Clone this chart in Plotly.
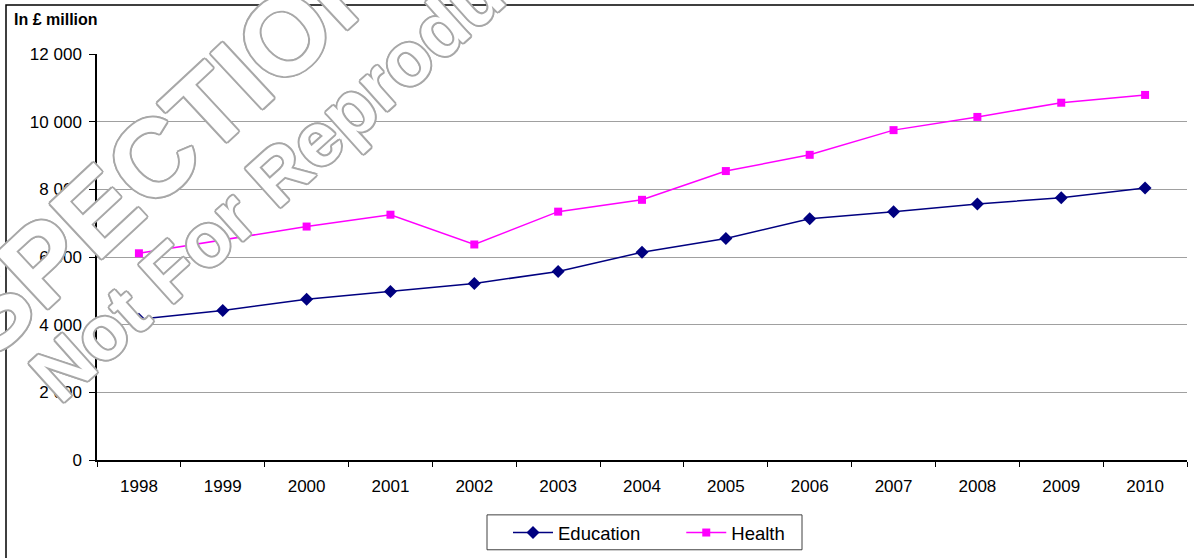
import plotly.graph_objects as go

# Public spending, in £ million
years = ["1998", "1999", "2000", "2001", "2002", "2003", "2004",
         "2005", "2006", "2007", "2008", "2009", "2010"]
education = [4160, 4420, 4750, 4980, 5220, 5570, 6140, 6550, 7130, 7340, 7570, 7750, 8040]
health = [6110, 6510, 6900, 7250, 6370, 7340, 7690, 8540, 9020, 9750, 10140, 10560, 10790]
y_ticks = [0, 2000, 4000, 6000, 8000, 10000, 12000]
y_tick_text = ["0", "2 000", "4 000", "6 000", "8 000", "10 000", "12 000"]

W, H = 1194, 558
L, R, T, B = 97, 7, 54, 97
PW, PH = W - L - R, H - T - B


def px(x):
    return (x - L) / PW


def py(y):
    return (H - B - y) / PH


FONT = "Liberation Sans, Arial, sans-serif"
GAP = "\u00a0" * 7  # extra room between the two legend entries

fig = go.Figure()
fig.add_trace(go.Scatter(
    x=years, y=education, name="Education" + GAP, mode="lines+markers",
    line=dict(color="#000080", width=1.5),
    marker=dict(symbol="diamond", size=10, color="#000080"),
))
fig.add_trace(go.Scatter(
    x=years, y=health, name="Health", mode="lines+markers",
    line=dict(color="#FF00FF", width=1.5),
    marker=dict(symbol="square", size=8, color="#FF00FF"),
))

outline = "#a8a8a8"
shadow = ", ".join(f"{dx}px {dy}px 0 {outline}" for dx, dy in
                   [(2, 0), (-2, 0), (0, 2), (0, -2), (1.4, 1.4), (-1.4, 1.4), (1.4, -1.4), (-1.4, -1.4)])

fig.update_layout(
    width=W, height=H,
    margin=dict(l=L, r=R, t=T, b=B),
    paper_bgcolor="white", plot_bgcolor="white",
    font=dict(family=FONT, size=17, color="black"),
    showlegend=True,
    legend=dict(
        orientation="h", x=px(508), y=py(533), xanchor="left", yanchor="middle",
        borderwidth=0, bgcolor="rgba(0,0,0,0)",
        font=dict(size=18.5), itemwidth=40,
    ),
    xaxis=dict(
        type="category", range=[-0.5, 12.5], tickson="boundaries", ticks="outside", ticklen=5,
        tickcolor="black", showline=True, linecolor="black", linewidth=1.5,
        showgrid=False, ticklabelstandoff=10, tickfont=dict(size=17),
    ),
    yaxis=dict(
        range=[0, 12000], tickvals=y_ticks, ticktext=y_tick_text,
        ticks="outside", ticklen=6, tickcolor="black",
        showline=True, linecolor="black", linewidth=1.5,
        showgrid=True, gridcolor="#a0a0a0", gridwidth=1,
        zeroline=False, ticklabelstandoff=4, tickfont=dict(size=17),
    ),
    shapes=[
        # outer frame
        dict(type="rect", xref="paper", yref="paper",
             x0=px(6), x1=px(1200), y0=py(570), y1=py(5),
             line=dict(color="black", width=1.5), fillcolor="rgba(0,0,0,0)", layer="below"),
        # legend box
        dict(type="rect", xref="paper", yref="paper",
             x0=px(487), x1=px(802), y0=py(551), y1=py(516),
             line=dict(color="#404040", width=1), fillcolor="white", layer="below"),
    ],
    annotations=[
        dict(text="<b>In £ million</b>", xref="paper", yref="paper",
             x=px(12), y=py(19), xanchor="left", yanchor="middle",
             showarrow=False, font=dict(size=16)),
        dict(text="<b>INSPECTION</b>", xref="paper", yref="paper",
             x=px(128), y=py(182), xanchor="center", yanchor="middle",
             showarrow=False, textangle=-43,
             font=dict(size=110, color="white", shadow=shadow)),
        dict(text="<b>Not For Reproduction</b>", xref="paper", yref="paper",
             x=px(334), y=py(124), xanchor="center", yanchor="middle",
             showarrow=False, textangle=-42,
             font=dict(size=76, color="white", shadow=shadow)),
    ],
)

fig.write_html("out.html")
